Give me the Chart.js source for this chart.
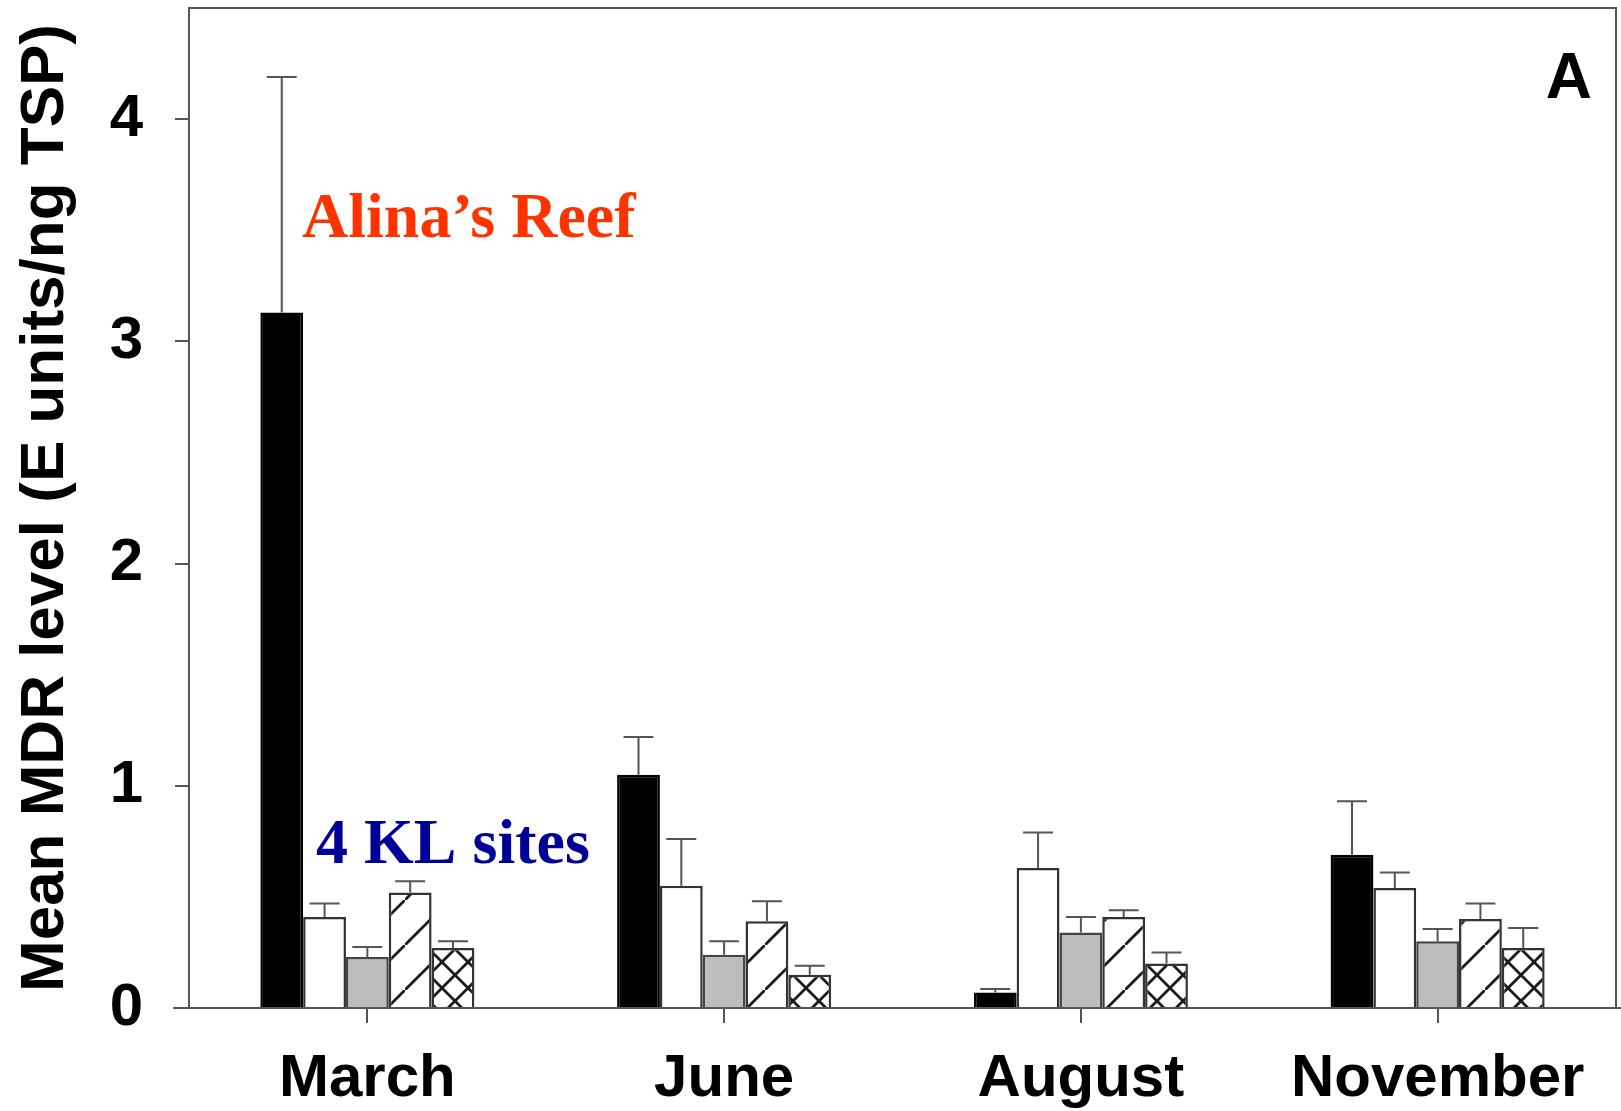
<!DOCTYPE html>
<html lang="en">
<head>
<meta charset="UTF-8">
<title>Mean MDR level</title>
<style>
  body { margin: 0; background: #fff; }
  #wrap { width: 1621px; height: 1111px; position: relative; }
</style>
</head>
<body>
<div id="wrap"><canvas id="mdrChart"></canvas></div>

<script src="https://cdn.jsdelivr.net/npm/chart.js"></script>
<script>
// months
const months = ['March', 'June', 'August', 'November'];

// mean MDR level per site (Alina's Reef first, then the 4 KL sites)
const alinasReef = [3.13, 1.05, 0.07, 0.69];
const klSite1 = [0.41, 0.55, 0.63, 0.54];
const klSite2 = [0.23, 0.24, 0.34, 0.30];
const klSite3 = [0.52, 0.39, 0.41, 0.40];
const klSite4 = [0.27, 0.15, 0.20, 0.27];

// upper error (SE) for each bar
const alinasReefErr = [1.06, 0.17, 0.015, 0.24];
const klSite1Err = [0.06, 0.21, 0.16, 0.07];
const klSite2Err = [0.045, 0.06, 0.07, 0.055];
const klSite3Err = [0.05, 0.09, 0.03, 0.07];
const klSite4Err = [0.03, 0.04, 0.05, 0.09];

const yTicks = [0, 1, 2, 3, 4];

const FONT = "'Liberation Sans', Arial, sans-serif";
const SERIF = "'Liberation Serif', 'Times New Roman', serif";

function makePattern(w, h, draw) {
    const c = document.createElement('canvas');
    c.width = w; c.height = h;
    const g = c.getContext('2d');
    g.fillStyle = '#fff';
    g.fillRect(0, 0, w, h);
    g.strokeStyle = '#1a1a1a';
    g.lineWidth = 2.8;
    draw(g, w, h);
    return g.createPattern(c, 'repeat');
}

// "/" hatch
const diagPattern = makePattern(45, 45, (g, w, h) => {
    g.beginPath();
    g.moveTo(-2, h + 2); g.lineTo(w + 2, -2);
    g.moveTo(-4, 2); g.lineTo(2, -4);
    g.moveTo(w - 2, h + 4); g.lineTo(w + 4, h - 2);
    g.stroke();
});

// cross hatch
const crossPattern = makePattern(26, 26, (g, w, h) => {
    g.beginPath();
    g.moveTo(-2, h + 2); g.lineTo(w + 2, -2);
    g.moveTo(-2, -2); g.lineTo(w + 2, h + 2);
    g.moveTo(-4, 2); g.lineTo(2, -4);
    g.moveTo(w - 2, h + 4); g.lineTo(w + 4, h - 2);
    g.moveTo(w - 2, -4); g.lineTo(w + 4, 2);
    g.moveTo(-4, h - 2); g.lineTo(2, h + 4);
    g.stroke();
});

const datasets = [
    { label: "Alina's Reef", data: alinasReef, err: alinasReefErr, backgroundColor: '#000', borderColor: '#000' },
    { label: 'KL site 1', data: klSite1, err: klSite1Err, backgroundColor: '#fff', borderColor: '#333' },
    { label: 'KL site 2', data: klSite2, err: klSite2Err, backgroundColor: '#bdbdbd', borderColor: '#444' },
    { label: 'KL site 3', data: klSite3, err: klSite3Err, backgroundColor: diagPattern, borderColor: '#333' },
    { label: 'KL site 4', data: klSite4, err: klSite4Err, backgroundColor: crossPattern, borderColor: '#333' }
].map(d => Object.assign(d, { borderWidth: 2.5, borderSkipped: 'bottom', barPercentage: 1.0, categoryPercentage: 0.6 }));

// text placed on the plot
const notes = [
    { text: 'Alina\u2019s Reef', x: 302, y: 237, font: 'bold 64px ' + SERIF, color: '#ff3300', align: 'left' },
    { text: '4 KL sites', x: 316, y: 863, font: 'bold 64px ' + SERIF, color: '#000099', align: 'left' },
    { text: 'A', x: 1592, y: 98, font: 'bold 64px ' + FONT, color: '#000', align: 'right' }
];

const framePlugin = {
    id: 'frame',
    afterDraw(chart) {
        const { ctx, chartArea: a } = chart;
        ctx.save();
        ctx.strokeStyle = '#555';
        ctx.lineWidth = 2;
        ctx.beginPath();
        ctx.moveTo(a.left, a.bottom); ctx.lineTo(a.left, a.top);
        ctx.lineTo(a.right, a.top); ctx.lineTo(a.right, a.bottom);
        ctx.moveTo(a.left - 16, a.bottom); ctx.lineTo(chart.width, a.bottom);
        ctx.stroke();
        ctx.restore();
    }
};

const errorBarPlugin = {
    id: 'errorBars',
    afterDatasetsDraw(chart) {
        const { ctx } = chart;
        const y = chart.scales.y;
        ctx.save();
        ctx.strokeStyle = '#555';
        ctx.lineWidth = 2;
        chart.data.datasets.forEach((ds, i) => {
            chart.getDatasetMeta(i).data.forEach((bar, j) => {
                const top = y.getPixelForValue(ds.data[j] + ds.err[j]);
                ctx.beginPath();
                ctx.moveTo(bar.x, bar.y);
                ctx.lineTo(bar.x, top);
                ctx.moveTo(bar.x - 15, top);
                ctx.lineTo(bar.x + 15, top);
                ctx.stroke();
            });
        });
        ctx.restore();
    }
};

const notesPlugin = {
    id: 'notes',
    afterDraw(chart) {
        const { ctx } = chart;
        ctx.save();
        ctx.textBaseline = 'alphabetic';
        notes.forEach(n => {
            ctx.font = n.font;
            ctx.fillStyle = n.color;
            ctx.textAlign = n.align;
            ctx.fillText(n.text, n.x, n.y);
        });
        ctx.restore();
    }
};

new Chart(document.getElementById('mdrChart'), {
    type: 'bar',
    data: { labels: months, datasets },
    options: {
        responsive: true,
        maintainAspectRatio: false,
        animation: false,
        layout: { padding: { top: 8, right: 5, left: 0, bottom: 0 } },
        plugins: { legend: { display: false }, tooltip: { enabled: false } },
        scales: {
            x: {
                offset: true,
                border: { display: false },
                grid: { offset: false, drawOnChartArea: false, drawTicks: true, tickLength: 15, color: '#555', lineWidth: 2 },
                ticks: { color: '#000', font: { family: FONT, size: 60, weight: 'bold' }, padding: 20 },
                afterFit(scale) {
                    scale.height = 103;
                    scale.paddingLeft = 0;
                    scale.paddingRight = 0;
                }
            },
            y: {
                min: 0,
                max: 4.5,
                border: { display: false },
                grid: { drawOnChartArea: false, drawTicks: true, tickLength: 14, color: '#555', lineWidth: 2 },
                ticks: { color: '#000', font: { family: FONT, size: 60, weight: 'bold' }, padding: 32 },
                afterBuildTicks(scale) { scale.ticks = yTicks.map(v => ({ value: v })); },
                afterFit(scale) {
                    scale.width = 189;
                    scale.paddingTop = 0;
                    scale.paddingBottom = 0;
                },
                title: {
                    display: true,
                    text: 'Mean MDR level (E units/ng TSP)',
                    color: '#000',
                    font: { family: FONT, size: 62, weight: 'bold', lineHeight: 1 },
                    padding: { top: 15, bottom: 0 }
                }
            }
        }
    },
    plugins: [framePlugin, errorBarPlugin, notesPlugin]
});
</script>
</body>
</html>
